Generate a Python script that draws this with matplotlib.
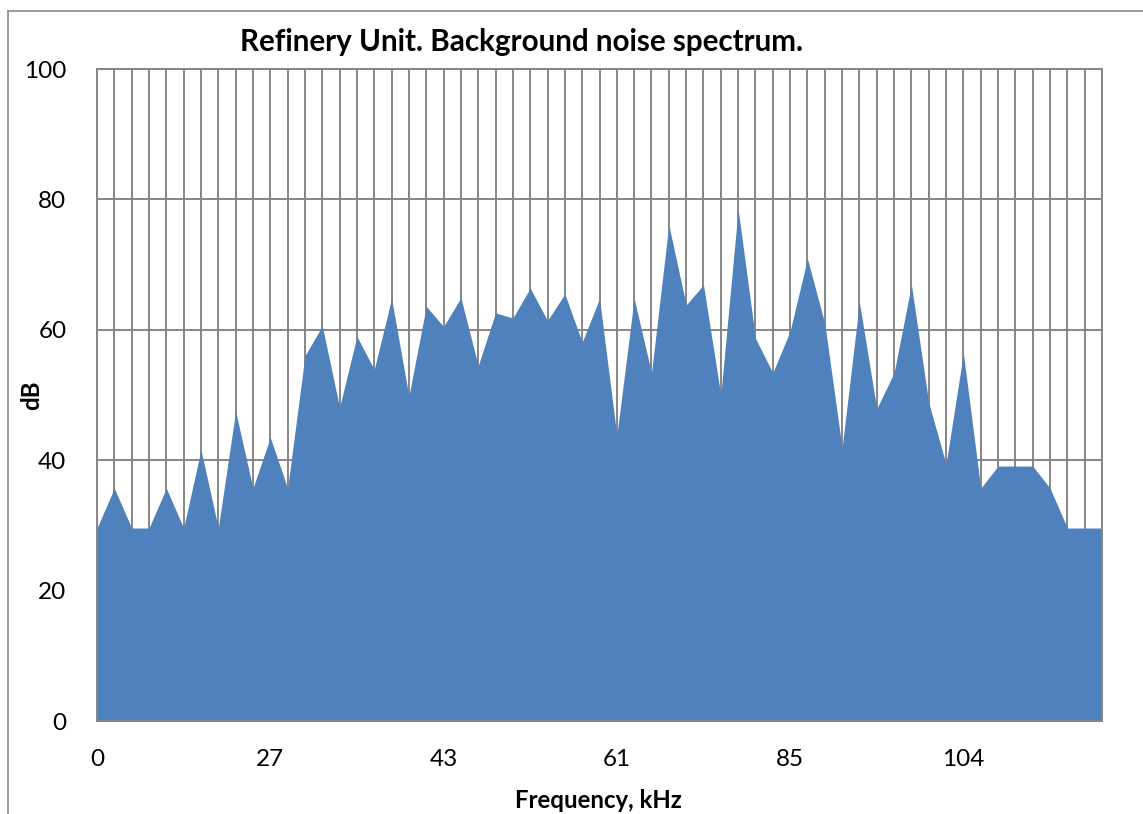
import matplotlib.pyplot as plt
from matplotlib.lines import Line2D

# Значения спектра (дБ) по категориям частоты
db_values = [29.6, 35.7, 29.6, 29.6, 35.7, 29.6, 41.6, 29.6, 47.5, 35.7,
             43.5, 35.7, 56.0, 60.6, 48.1, 59.0, 53.9, 64.8, 49.8, 63.6,
             60.5, 64.9, 54.5, 62.6, 61.8, 66.4, 61.4, 65.5, 58.1, 64.8,
             43.8, 64.8, 53.4, 76.1, 63.8, 66.9, 50.0, 78.5, 58.7, 53.4,
             59.8, 70.9, 61.0, 41.9, 64.2, 47.9, 53.4, 66.9, 48.8, 39.4,
             56.4, 35.7, 39.1, 39.1, 39.1, 35.7, 29.6, 29.6, 29.6]
tick_positions = [0, 10, 20, 30, 40, 50]
tick_labels = ['0', '27', '43', '61', '85', '104']
y_ticks = [0, 20, 40, 60, 80, 100]

FONT = 'Lato'
GRID = '#868686'


def main():
    fig = plt.figure(figsize=(11.43, 8.14), dpi=100)
    W, H = 1143, 814
    ax = fig.add_axes([97 / W, 1 - 721 / H, (1102 - 97) / W, (721 - 69) / H])

    x = range(len(db_values))
    ax.fill_between(x, db_values, 0, color='#4F81BD', linewidth=0, zorder=3)

    ax.set_xlim(0, len(db_values) - 1)
    ax.set_ylim(0, 100)

    # Сетка: вертикальные линии на каждой категории
    ax.set_xticks(list(x), minor=True)
    ax.set_xticks(tick_positions)
    ax.set_xticklabels(tick_labels)
    ax.set_yticks(y_ticks)
    ax.grid(True, which='both', axis='x', color=GRID, linewidth=1.4, zorder=1)
    ax.grid(True, which='major', axis='y', color=GRID, linewidth=1.4, zorder=1)
    ax.set_axisbelow(True)

    ax.tick_params(which='both', length=0)
    ax.tick_params(axis='x', pad=20, labelsize=17.5)
    ax.tick_params(axis='y', pad=22, labelsize=17.5)
    for lab in ax.get_xticklabels() + ax.get_yticklabels():
        lab.set_fontfamily(FONT)

    for sp in ax.spines.values():
        sp.set_color(GRID)
        sp.set_linewidth(1.4)
        sp.set_zorder(4)

    fig.text(521 / W, 1 - 42 / H, 'Refinery Unit. Background noise spectrum.',
             ha='center', va='center', fontsize=21.3, fontweight='bold', family=FONT)
    fig.text(32 / W, 1 - 395 / H, 'dB', ha='center', va='center', rotation=90,
             fontsize=17.3, fontweight='bold', family=FONT)
    fig.text(598 / W, 1 - 800 / H, 'Frequency, kHz', ha='center', va='center',
             fontsize=17.3, fontweight='bold', family=FONT)

    # Рамка области диаграммы (видны только левая и верхняя стороны)
    fig.add_artist(Line2D([8 / W, 8 / W], [0, 1 - 11 / H], color='#8c8c8c',
                          linewidth=1.2, transform=fig.transFigure))
    fig.add_artist(Line2D([8 / W, 1], [1 - 11 / H, 1 - 11 / H], color='#8c8c8c',
                          linewidth=1.2, transform=fig.transFigure))

    plt.savefig('out.png', dpi=100)


if __name__ == "__main__":
    main()
